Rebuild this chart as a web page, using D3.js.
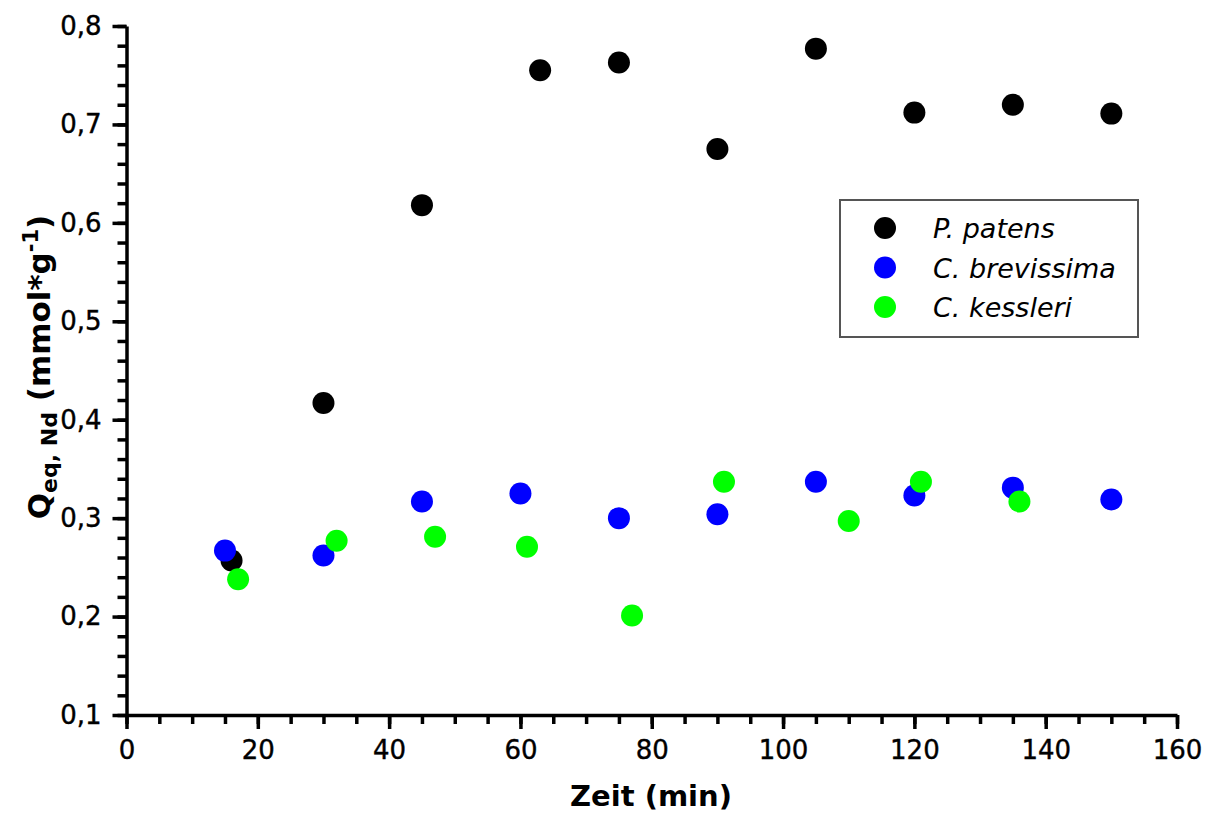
<!DOCTYPE html>
<html>
<head>
<meta charset="utf-8">
<script src="https://cdn.jsdelivr.net/npm/d3@7"></script>
<style>
  body { margin: 0; background: #fff; }
  text { font-family: "DejaVu Sans", Verdana, sans-serif; fill: #000; }
</style>
</head>
<body>
<div id="chart"></div>
<script>
// P. patens
const patensX = [16, 30, 45, 63, 75, 90, 105, 120, 135, 150];
const patensY = [0.257, 0.417, 0.618, 0.755, 0.763, 0.675, 0.777, 0.712, 0.720, 0.711];
// C. brevissima
const brevX = [15, 30, 45, 60, 75, 90, 105, 120, 135, 150];
const brevY = [0.267, 0.262, 0.317, 0.325, 0.300, 0.304, 0.337, 0.323, 0.331, 0.319];
// C. kessleri
const kessX = [17, 32, 47, 61, 77, 91, 110, 121, 136];
const kessY = [0.238, 0.277, 0.281, 0.271, 0.201, 0.337, 0.297, 0.337, 0.317];

const seriesNames = ["P. patens", "C. brevissima", "C. kessleri"];
const seriesColors = ["#000000", "#0000ff", "#00ff00"];

const xTicks = [0, 20, 40, 60, 80, 100, 120, 140, 160];
const yTicks = [0.1, 0.2, 0.3, 0.4, 0.5, 0.6, 0.7, 0.8];

const W = 1213, H = 817;
const margin = { top: 26, right: 36, bottom: 102, left: 126.5 };
const width = W - margin.left - margin.right;
const height = H - margin.top - margin.bottom;

const x = d3.scaleLinear().domain([0, 160]).range([0, width]);
const y = d3.scaleLinear().domain([0.1, 0.8]).range([height, 0]);

const svg = d3.select('#chart').append('svg')
  .attr('width', W).attr('height', H);
const g = svg.append('g').attr('transform', `translate(${margin.left}, ${margin.top})`);

// minor ticks
g.append('g')
  .attr('transform', `translate(0, ${height})`)
  .call(d3.axisBottom(x).tickValues(d3.range(0, 161, 5)).tickSize(9).tickFormat(''))
  .call(a => a.select('.domain').remove())
  .call(a => a.selectAll('line').attr('stroke-width', 3.5));
g.append('g')
  .call(d3.axisLeft(y).tickValues(d3.range(10, 81, 2).map(v => v / 100)).tickSize(9).tickFormat(''))
  .call(a => a.select('.domain').remove())
  .call(a => a.selectAll('line').attr('stroke-width', 3.5));

// major axes
const fmt = d => d3.format('.1f')(d).replace('.', ',');
g.append('g')
  .attr('transform', `translate(0, ${height})`)
  .call(d3.axisBottom(x).tickValues(xTicks).tickSize(14).tickSizeOuter(0).tickPadding(12))
  .call(a => a.select('.domain').attr('stroke-width', 3.5))
  .call(a => a.selectAll('line').attr('stroke-width', 3.5))
  .call(a => a.selectAll('text').style('font-size', '26px').attr('stroke', '#000').attr('stroke-width', 0.4));
g.append('g')
  .call(d3.axisLeft(y).tickValues(yTicks).tickFormat(fmt).tickSize(14).tickSizeOuter(0).tickPadding(11))
  .call(a => a.select('.domain').attr('stroke-width', 3.5))
  .call(a => a.selectAll('line').attr('stroke-width', 3.5))
  .call(a => a.selectAll('text').style('font-size', '26px').attr('stroke', '#000').attr('stroke-width', 0.4));

// points
const series = [
  patensX.map((v, i) => ({ x: v, y: patensY[i] })),
  brevX.map((v, i) => ({ x: v, y: brevY[i] })),
  kessX.map((v, i) => ({ x: v, y: kessY[i] }))
];
series.forEach((data, si) => {
  g.append('g').selectAll('circle').data(data).enter().append('circle')
    .attr('cx', d => x(d.x)).attr('cy', d => y(d.y)).attr('r', 11)
    .attr('fill', seriesColors[si]);
});

// legend
const legend = svg.append('g').attr('transform', 'translate(840, 200)');
legend.append('rect').attr('width', 298).attr('height', 137)
  .attr('fill', '#fff').attr('stroke', '#555').attr('stroke-width', 2);
seriesNames.forEach((name, i) => {
  legend.append('circle').attr('cx', 45).attr('cy', 28 + i * 39.5).attr('r', 11).attr('fill', seriesColors[i]);
  legend.append('text').attr('x', 93).attr('y', 29 + i * 39.5).attr('dy', '0.35em')
    .style('font-size', '27px').style('font-style', 'italic').text(name);
});

// axis titles
svg.append('text')
  .attr('x', 651).attr('y', 806)
  .attr('text-anchor', 'middle')
  .style('font-size', '29px').style('font-weight', 'bold')
  .text('Zeit (min)');

const yt = svg.append('text')
  .attr('transform', 'translate(50, 367) rotate(-90)')
  .attr('text-anchor', 'middle')
  .style('font-size', '31px').style('font-weight', 'bold');
yt.append('tspan').text('Q');
yt.append('tspan').attr('dy', 7).style('font-size', '22px').text('eq, Nd');
yt.append('tspan').attr('dy', -7).text(' (mmol*g');
yt.append('tspan').attr('dy', -12).style('font-size', '21px').text('-1');
yt.append('tspan').attr('dy', 12).text(')');
</script>
</body>
</html>
